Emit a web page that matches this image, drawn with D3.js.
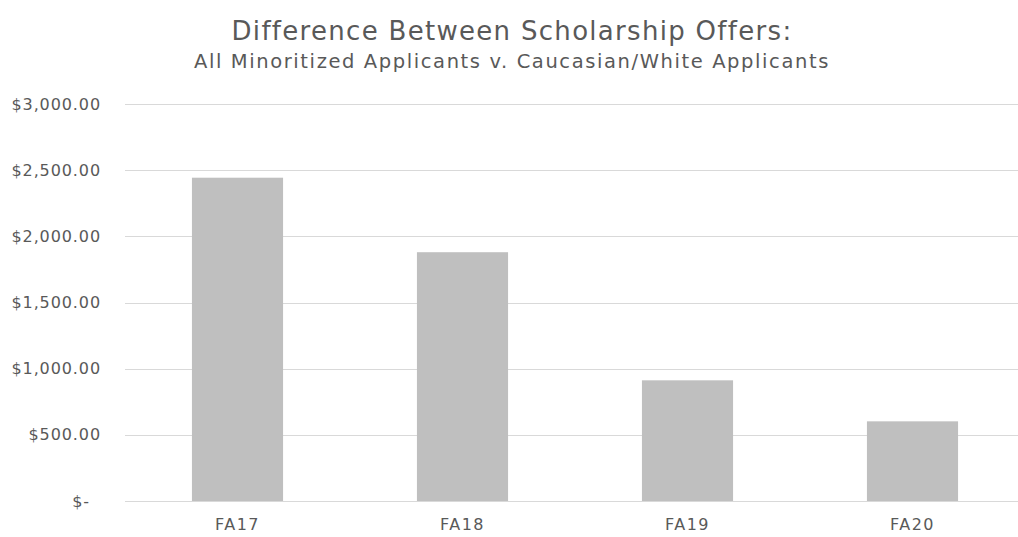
<!DOCTYPE html>
<html>
<head>
<meta charset="utf-8">
<script src="https://cdn.jsdelivr.net/npm/d3@7"></script>
<style>
  html, body { margin: 0; padding: 0; background: #fff; }
  svg { display: block; }
  text { font-family: "DejaVu Sans", "Lato", sans-serif; fill: #595959; }
</style>
</head>
<body>
<svg id="chart" width="1018" height="537"></svg>
<script>
// Scholarship offer gap by fall term (USD)
const categories = ["FA17", "FA18", "FA19", "FA20"];
const values = [2443, 1880, 912, 602];
const yTicks = [0, 500, 1000, 1500, 2000, 2500, 3000];
const titleLines = [
  "Difference Between Scholarship Offers:",
  "All Minoritized Applicants v. Caucasian/White Applicants"
];

const W = 1018, H = 537;
const plot = { left: 125, right: 1025, top: 104, bottom: 501 };

const svg = d3.select("#chart");

const x = d3.scaleBand()
  .domain(categories)
  .range([plot.left, plot.right])
  .paddingInner(0.595)
  .paddingOuter(0.2975);

const y = d3.scaleLinear()
  .domain([0, 3000])
  .range([plot.bottom, plot.top]);

const money = d3.format(",.2f");
const fmt = v => v === 0 ? "$-" : "$" + money(v);

// horizontal gridlines
svg.append("g")
  .selectAll("line")
  .data(yTicks)
  .join("line")
  .attr("x1", plot.left)
  .attr("x2", W)
  .attr("y1", d => Math.round(y(d)) + 0.5)
  .attr("y2", d => Math.round(y(d)) + 0.5)
  .attr("stroke", "#d9d9d9")
  .attr("stroke-width", 1);

// y axis labels
const yAxis = d3.axisLeft(y)
  .tickValues(yTicks)
  .tickFormat(fmt)
  .tickSize(0)
  .tickPadding(0);

const yg = svg.append("g")
  .attr("transform", `translate(${plot.left - 24},0)`)
  .call(yAxis);
yg.select(".domain").remove();
yg.selectAll("text")
  .style("font-size", "16px")
  .style("letter-spacing", "0.9px")
  .style("font-family", "DejaVu Sans, sans-serif")
  .attr("fill", "#595959")
  .attr("dx", d => d === 0 ? -11 : 0);

// bars
svg.append("g")
  .selectAll("rect")
  .data(values)
  .join("rect")
  .attr("x", (d, i) => x(categories[i]))
  .attr("width", x.bandwidth())
  .attr("y", d => y(d))
  .attr("height", d => y(0) - y(d))
  .attr("fill", "#bfbfbf");

// x axis labels
const xAxis = d3.axisBottom(x).tickSize(0).tickPadding(0);
const xg = svg.append("g")
  .attr("transform", `translate(0,${plot.bottom + 18})`)
  .call(xAxis);
xg.select(".domain").remove();
xg.selectAll("text")
  .style("font-size", "16px")
  .style("letter-spacing", "1.5px")
  .style("font-family", "DejaVu Sans, sans-serif")
  .attr("fill", "#595959");

// title
svg.append("text")
  .attr("x", 512)
  .attr("y", 40)
  .attr("text-anchor", "middle")
  .style("font-size", "26px")
  .style("letter-spacing", "1.3px")
  .text(titleLines[0]);

svg.append("text")
  .attr("x", 512)
  .attr("y", 68)
  .attr("text-anchor", "middle")
  .style("font-size", "19.5px")
  .style("letter-spacing", "1.6px")
  .text(titleLines[1]);
</script>
</body>
</html>
